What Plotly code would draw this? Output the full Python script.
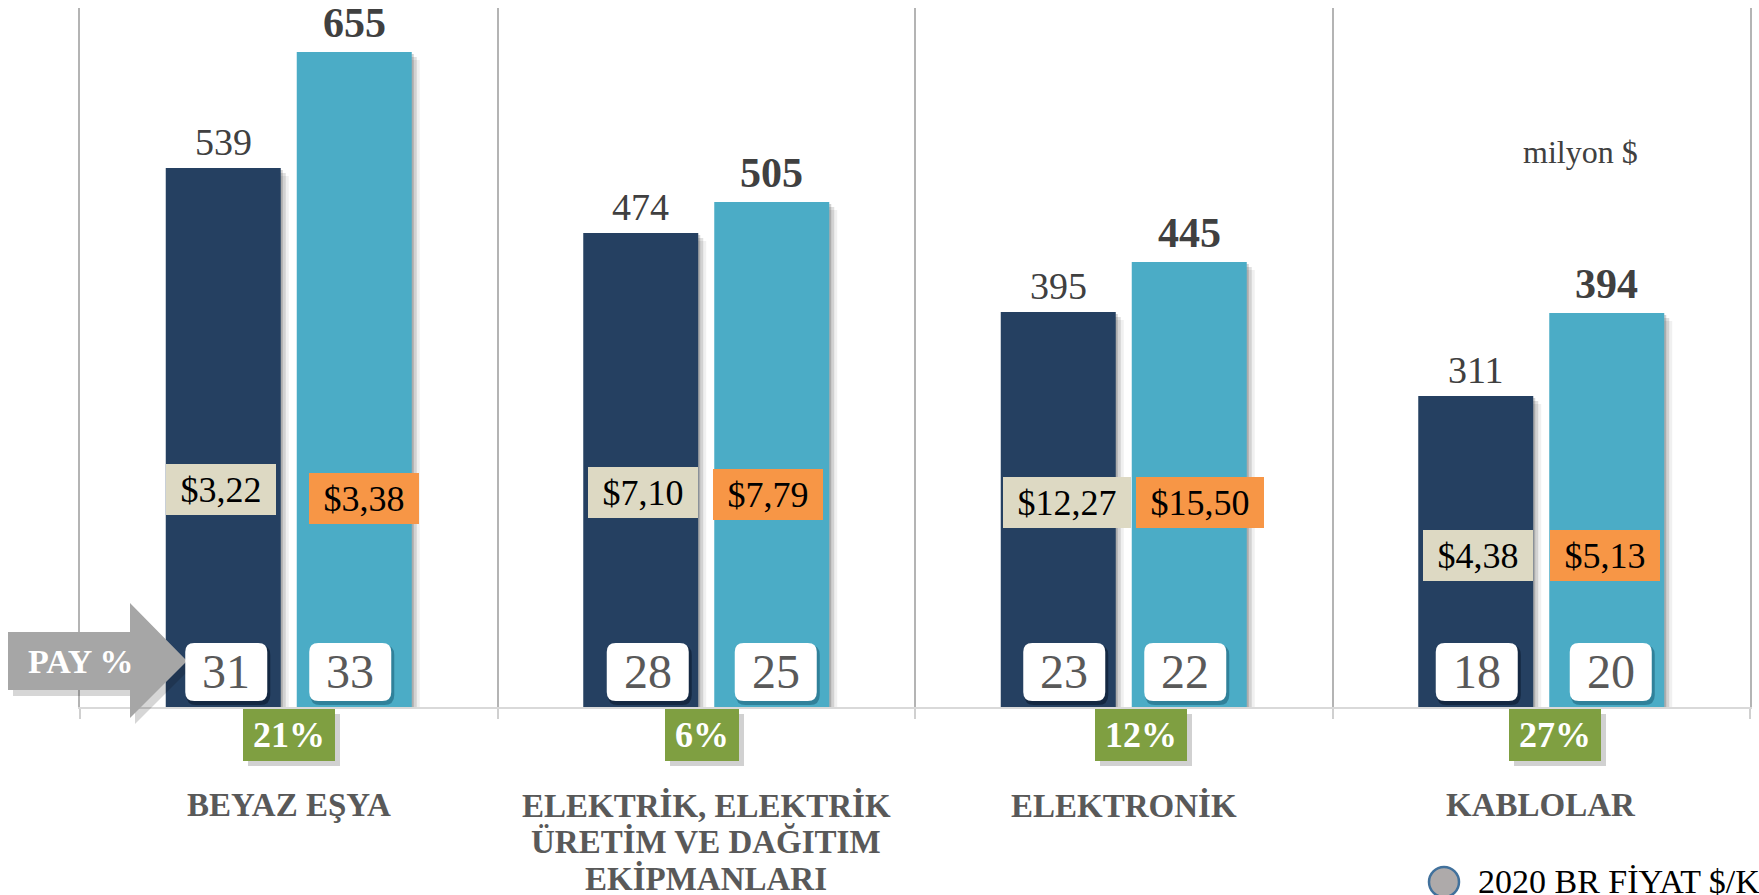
import plotly.graph_objects as go

# categories and values
categories = ["BEYAZ EŞYA", "ELEKTRİK, ELEKTRİK<br>ÜRETİM VE DAĞITIM<br>EKİPMANLARI",
              "ELEKTRONİK", "KABLOLAR"]
exports_2019 = [539, 474, 395, 311]      # milyon $
exports_2020 = [655, 505, 445, 394]      # milyon $
share_2019 = [31, 28, 23, 18]            # PAY %
share_2020 = [33, 25, 22, 20]            # PAY %
price_2019 = [3.22, 7.10, 12.27, 4.38]   # $/KG
price_2020 = [3.38, 7.79, 15.50, 5.13]   # $/KG (2020 BR FİYAT)
growth = [21, 6, 12, 27]                 # % change

FONT = "Liberation Serif"
DARK = "#254061"
LIGHT = "#4bacc6"

# geometry (pixels)
PLOT_L, PLOT_T, PLOT_W, PLOT_H = 80, 8, 1670, 699
PX = 4 / PLOT_W          # one pixel in x data units
BAR_W = 115
DARK_OFF = -123
LIGHT_OFF = 8

# hand placement of the boxes drawn over / under the bars (pixels)
share_dx_2019 = [3, 7, 6, 1]
share_dx_2020 = [-4, 4, -4, 4]
price_dx_2019 = [-2, 2, 9, 2]
price_dx_2020 = [10, -4, 11, -2]
price_h_2019 = [218, 215, 205, 152]
price_h_2020 = [209, 213, 205, 152]
growth_dx = [0, -4, 17, 14]

x = list(range(len(categories)))
dark_cx = [i + (DARK_OFF + BAR_W / 2) * PX for i in x]
light_cx = [i + (LIGHT_OFF + BAR_W / 2) * PX for i in x]


def fmt_price(v):
    return "$" + f"{v:.2f}".replace(".", ",")


def rounded(x0, y0, x1, y1, r):
    return (f"M{x0 + r},{y0} L{x1 - r},{y0} Q{x1},{y0} {x1},{y0 + r} "
            f"L{x1},{y1 - r} Q{x1},{y1} {x1 - r},{y1} L{x0 + r},{y1} "
            f"Q{x0},{y1} {x0},{y1 - r} L{x0},{y0 + r} Q{x0},{y0} {x0 + r},{y0} Z")


fig = go.Figure()

# soft drop shadows behind bars
for s, a in [(8, 0.06), (5, 0.12), (2, 0.18)]:
    for vals, off in [(exports_2019, DARK_OFF), (exports_2020, LIGHT_OFF)]:
        fig.add_trace(go.Bar(
            x=x, y=vals, base=[-s] * len(vals),
            offset=(off + s) * PX, width=BAR_W * PX,
            marker=dict(color=f"rgba(0,0,0,{a})", line_width=0),
            cliponaxis=False, hoverinfo="skip", showlegend=False))

fig.add_trace(go.Bar(
    x=x, y=exports_2019, offset=DARK_OFF * PX, width=BAR_W * PX,
    marker=dict(color=DARK, line_width=0), name="2019",
    hoverinfo="y", showlegend=False))
fig.add_trace(go.Bar(
    x=x, y=exports_2020, offset=LIGHT_OFF * PX, width=BAR_W * PX,
    marker=dict(color=LIGHT, line_width=0), name="2020",
    hoverinfo="y", showlegend=False))

shapes = []
annotations = []

# PAY % arrow (pixels relative to the plot's bottom-left corner)
arrow = "M-72,17 L50,17 L50,-11 L107,46 L50,104 L50,75 L-72,75 Z"
arrow_shadow = "M-67,11 L55,11 L55,-17 L112,40 L55,98 L55,69 L-67,69 Z"
for path, col in [(arrow_shadow, "rgba(0,0,0,0.16)"), (arrow, "#a6a6a6")]:
    shapes.append(dict(type="path", xref="paper", yref="paper", xsizemode="pixel",
                       ysizemode="pixel", xanchor=0, yanchor=0, path=path,
                       fillcolor=col, line_width=0, layer="above"))
annotations.append(dict(text="<b>PAY %</b>", xref="paper", yref="y", x=0, y=46,
                        xanchor="center", yanchor="middle", showarrow=False,
                        font=dict(family=FONT, size=34, color="white")))

# white share boxes
for cx_list, vals, dxs, shade in [
        (dark_cx, share_2019, share_dx_2019, "rgba(10,25,45,0.6)"),
        (light_cx, share_2020, share_dx_2020, "rgba(30,100,125,0.6)")]:
    for cx, v, dx in zip(cx_list, vals, dxs):
        bx = cx + dx * PX
        shapes.append(dict(type="path", xref="x", yref="paper", xsizemode="pixel",
                           ysizemode="pixel", xanchor=bx, yanchor=0,
                           path=rounded(-40, 2, 44, 62, 10),
                           fillcolor=shade, line_width=0, layer="above"))
        shapes.append(dict(type="path", xref="x", yref="paper", xsizemode="pixel",
                           ysizemode="pixel", xanchor=bx, yanchor=0,
                           path=rounded(-41, 6, 41, 64, 9),
                           fillcolor="white", line_width=0, layer="above"))
        annotations.append(dict(text=str(v), x=bx, y=35, xanchor="center",
                                yanchor="middle", showarrow=False, yshift=1,
                                font=dict(family=FONT, size=48, color="#595959")))

# bar value labels
for cx, v in zip(dark_cx, exports_2019):
    annotations.append(dict(text=str(v), x=cx, y=v, xanchor="center",
                            yanchor="bottom", showarrow=False, yshift=3,
                            font=dict(family=FONT, size=38, color="#404040")))
for cx, v in zip(light_cx, exports_2020):
    annotations.append(dict(text=f"<b>{v}</b>", x=cx, y=v, xanchor="center",
                            yanchor="bottom", showarrow=False, yshift=4,
                            font=dict(family=FONT, size=42, color="#404040")))

# price boxes
for cx_list, vals, dxs, hs, bg in [
        (dark_cx, price_2019, price_dx_2019, price_h_2019, "#ddd9c3"),
        (light_cx, price_2020, price_dx_2020, price_h_2020, "#f79646")]:
    for cx, v, dx, h in zip(cx_list, vals, dxs, hs):
        t = fmt_price(v)
        annotations.append(dict(text=t, x=cx + dx * PX, y=h, xanchor="center",
                                yanchor="middle", showarrow=False,
                                width=110 if len(t) <= 5 else 128, height=51,
                                bgcolor=bg, borderpad=0, borderwidth=0,
                                font=dict(family=FONT, size=36, color="black")))

# growth boxes
for i, g, dx in zip(x, growth, growth_dx):
    t = f"{g}%"
    w = (len(str(g)) * 0.5 + 1.0) * 36 + 20
    annotations.append(dict(text="", x=i + (dx + 5) * PX, y=0, xanchor="center",
                            yanchor="top", yshift=-7, showarrow=False,
                            width=w, height=52, bgcolor="rgba(0,0,0,0.18)",
                            borderpad=0, borderwidth=0))
    annotations.append(dict(text=f"<b>{t}</b>", x=i + dx * PX, y=0, xanchor="center",
                            yanchor="top", yshift=-2, showarrow=False,
                            width=w, height=52, bgcolor="#7f9f41",
                            borderpad=0, borderwidth=0,
                            font=dict(family=FONT, size=36, color="white")))

# category labels, one annotation per line for tight line spacing
for i, c in zip(x, categories):
    for k, line in enumerate(c.split("<br>")):
        annotations.append(dict(text=f"<b>{line}</b>", x=i, y=0, xanchor="center",
                                yanchor="middle", yshift=-98 - 36.5 * k,
                                showarrow=False,
                                font=dict(family=FONT, size=33, color="#595959")))

# unit note
annotations.append(dict(text="milyon $", xref="paper", yref="y",
                        x=(1580 - PLOT_L) / PLOT_W, y=555, xanchor="center",
                        yanchor="middle", showarrow=False,
                        font=dict(family=FONT, size=32, color="#404040")))

# legend-like key at the bottom right
shapes.append(dict(type="circle", xref="paper", yref="paper", xsizemode="pixel",
                   ysizemode="pixel", xanchor=1, yanchor=0,
                   x0=-321, x1=-291, y0=-190, y1=-160,
                   fillcolor="#aeaaaa", line=dict(color="#41719c", width=2.5),
                   layer="above"))
annotations.append(dict(text="2020 BR FİYAT $/KG", xref="paper", yref="y", x=1,
                        xshift=-274, y=0, yshift=-174, xanchor="left",
                        yanchor="middle", showarrow=False,
                        font=dict(family=FONT, size=34, color="black")))

fig.update_layout(
    width=1759, height=895,
    margin=dict(l=PLOT_L, r=1759 - PLOT_L - PLOT_W, t=PLOT_T, b=895 - PLOT_T - PLOT_H,
                autoexpand=False),
    barmode="overlay",
    plot_bgcolor="white", paper_bgcolor="white",
    shapes=shapes, annotations=annotations,
    font=dict(family=FONT),
    showlegend=False,
)
fig.update_xaxes(range=[-0.5, 3.5], tickvals=[-0.5, 0.5, 1.5, 2.5, 3.5],
                 showticklabels=False, showgrid=True, gridcolor="#b4b4b4",
                 gridwidth=1.5, ticks="outside", ticklen=10, tickcolor="#d0d0d0",
                 tickwidth=1.5, showline=True, linecolor="#d9d9d9", linewidth=2,
                 zeroline=False, fixedrange=True)
# y axis only supplies the outer vertical frame lines
fig.update_yaxes(range=[0, PLOT_H], showgrid=False, zeroline=False,
                 showticklabels=False, ticks="", showline=True, mirror=True,
                 linecolor="#b4b4b4", linewidth=1.5, fixedrange=True)

fig.write_html("out.html", config={"displayModeBar": False},
               post_script="document.body.style.margin='0';"
                           "document.body.style.overflow='hidden';")
